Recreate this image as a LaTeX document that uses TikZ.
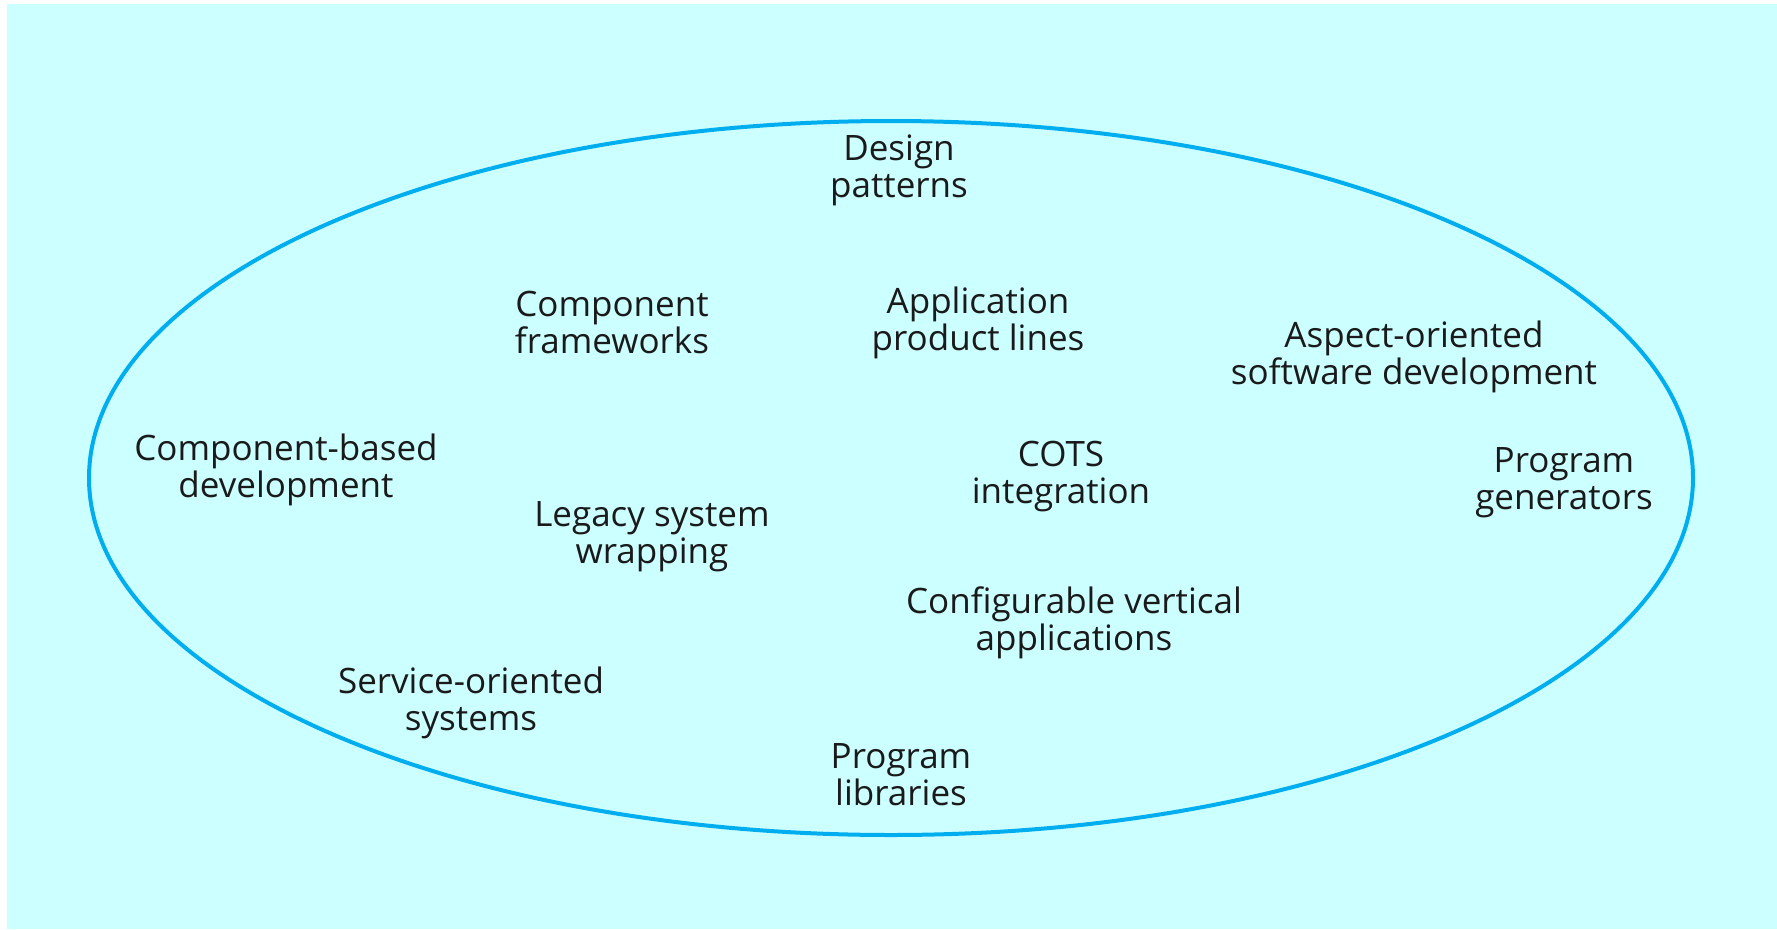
\documentclass[tikz,border=0pt]{standalone}
\usepackage{fontspec}
\setmainfont{Open Sans}
\definecolor{bgcyan}{HTML}{CCFFFF}
\definecolor{ellblue}{HTML}{00AEEF}
\definecolor{txt}{HTML}{1A1A1A}
\begin{document}
\begin{tikzpicture}[x=1pt,y=-1pt,
  lbl/.style={align=center,inner sep=0pt,text=txt,font=\fontsize{35}{37}\selectfont}]
\useasboundingbox (0,0) rectangle (1777,929);
\fill[bgcyan] (7,4) rectangle (1777,929);
\draw[ellblue,line width=4pt] (891,478) ellipse [x radius=802, y radius=357];
\node[lbl] (dp) at (899,170) {Design\\patterns};
\node[lbl] (cf) at (612,322) {Component\\frameworks};
\node[lbl] (apl) at (978,323) {Application\\product lines};
\node[lbl] (aosd) at (1414,357) {Aspect-oriented\\software development};
\node[lbl] (cbd) at (286,470) {Component-based\\development};
\node[lbl] (cots) at (1061,477) {COTS\\integration};
\node[lbl] (pg) at (1564,483) {Program\\generators};
\node[lbl] (lsw) at (652,537) {Legacy system\\wrapping};
\node[lbl] (cva) at (1074,623) {Configurable vertical\\applications};
\node[lbl] (sos) at (471,703) {Service-oriented\\systems};
\node[lbl] (pl) at (901,775) {Program\\libraries};
\end{tikzpicture}
\end{document}
